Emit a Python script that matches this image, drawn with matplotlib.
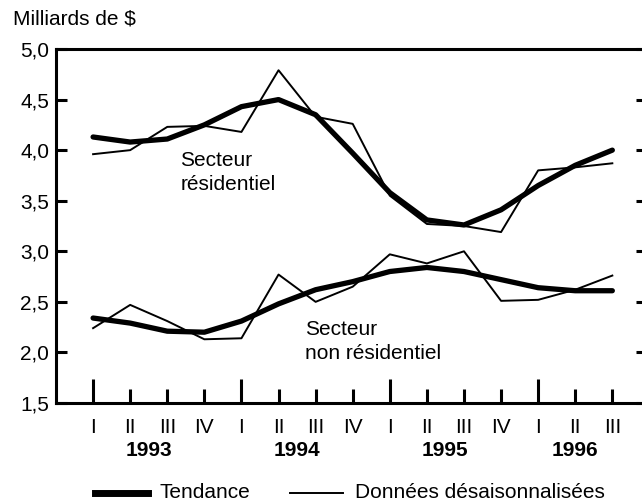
import matplotlib
matplotlib.use("Agg")
import matplotlib.pyplot as plt
from matplotlib.transforms import blended_transform_factory

plt.rcParams['font.family'] = ['Liberation Sans', 'DejaVu Sans']

quarters = ["I", "II", "III", "IV", "I", "II", "III", "IV",
            "I", "II", "III", "IV", "I", "II", "III"]
years = ["1993", "1994", "1995", "1996"]

res_trend = [4.13, 4.08, 4.11, 4.25, 4.43, 4.50, 4.35, 3.97,
             3.58, 3.31, 3.26, 3.41, 3.65, 3.85, 4.00]
res_raw = [3.96, 4.00, 4.23, 4.24, 4.18, 4.79, 4.33, 4.26,
           3.55, 3.27, 3.25, 3.19, 3.80, 3.83, 3.87]
nonres_trend = [2.34, 2.29, 2.21, 2.20, 2.31, 2.48, 2.62, 2.70,
                2.80, 2.84, 2.80, 2.72, 2.64, 2.61, 2.61]
nonres_raw = [2.24, 2.47, 2.31, 2.13, 2.14, 2.77, 2.50, 2.65,
              2.97, 2.88, 3.00, 2.51, 2.52, 2.62, 2.76]

FS = 15
x = list(range(len(quarters)))

fig = plt.figure(figsize=(6.42, 5.04), dpi=100)
ax = fig.add_axes([56 / 642, 1 - 403 / 504, 586 / 642, 354 / 504])

ax.plot(x, res_trend, color="black", lw=3.8, solid_capstyle="round")
ax.plot(x, res_raw, color="black", lw=1.4)
ax.plot(x, nonres_trend, color="black", lw=3.8, solid_capstyle="round")
ax.plot(x, nonres_raw, color="black", lw=1.4)

ax.set_xlim(-1, 14.8)
ax.set_ylim(1.5, 5.0)

for side in ["left", "bottom", "top"]:
    ax.spines[side].set_linewidth(2.2)
ax.spines["right"].set_visible(False)

yt = [1.5, 2.0, 2.5, 3.0, 3.5, 4.0, 4.5, 5.0]
ax.set_yticks(yt)
ax.set_yticklabels([f"{v:.1f}".replace(".", ",") for v in yt], fontsize=FS)
ax.tick_params(axis="y", direction="in", length=8, width=2.2, pad=5,
               right=True, labelright=False)
for t in ax.yaxis.get_major_ticks():
    t.tick2line.set_markersize(4)

ax.set_xticks(x)
ax.set_xticklabels(quarters, fontsize=FS)
ax.tick_params(axis="x", direction="in", length=10, width=2.2, pad=11)
for i, t in enumerate(ax.xaxis.get_major_ticks()):
    if i % 4 == 0:
        t.tick1line.set_markersize(17)

trans = blended_transform_factory(ax.transData, fig.transFigure)
for k, yr in enumerate(years):
    xc = 4 * k + 1.5 if k < 3 else 13
    ax.text(xc, 1 - 451 / 504, yr, transform=trans, ha="center", va="center",
            fontsize=FS, fontweight="bold")

ax.text(2.35, 3.78, "Secteur\nrésidentiel", fontsize=FS, ha="left",
        va="center", linespacing=1.35)
ax.text(5.72, 2.11, "Secteur\nnon résidentiel", fontsize=FS, ha="left",
        va="center", linespacing=1.35)

fig.text(13 / 642, 1 - 19 / 504, "Milliards de $", fontsize=FS, va="center")

ly = 1 - 493 / 504
fig.add_artist(plt.Line2D([95 / 642, 148 / 642], [ly, ly],
                          color="black", lw=5))
fig.text(160 / 642, ly, "Tendance", fontsize=FS, va="center")
fig.add_artist(plt.Line2D([290 / 642, 343 / 642], [ly, ly],
                          color="black", lw=1.4))
fig.text(355 / 642, ly, "Données désaisonnalisées", fontsize=FS,
         va="center")

fig.savefig("out.png", dpi=100)
